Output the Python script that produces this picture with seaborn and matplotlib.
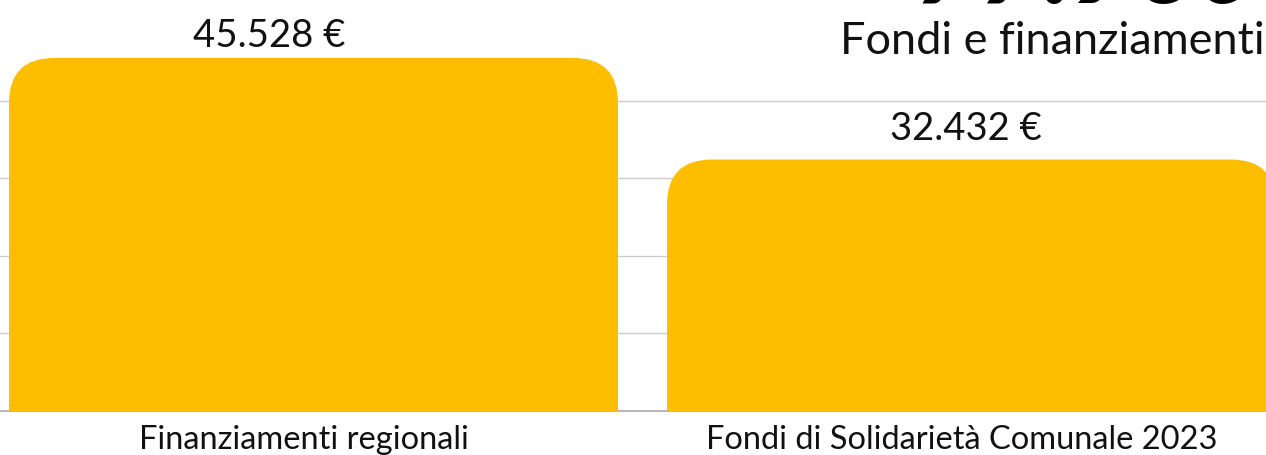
import matplotlib
matplotlib.use("Agg")
import matplotlib.pyplot as plt
import matplotlib.transforms as mtrans
import seaborn as sns
import pandas as pd
from matplotlib.patches import FancyBboxPatch

categories = ["Finanziamenti regionali", "Fondi di Solidarietà Comunale 2023"]
values = [45528, 32432]
value_labels = ["45.528 €", "32.432 €"]
total_label = "77.960 €"
subtitle = "Fondi e finanziamenti"

BAR_COLOR = "#FEBE00"
FONT = ["Lato", "DejaVu Sans"]

sns.set_theme(style="white")
plt.rcParams["font.family"] = FONT

W, H, DPI = 1266, 455, 100
fig = plt.figure(figsize=(W / DPI, H / DPI), dpi=DPI)
ax = fig.add_axes([0, (H - 411) / H, 1, (411 - 54.3) / H])

df = pd.DataFrame({"cat": categories, "val": values})
bar_w = 0.9255
sns.barplot(data=df, x="cat", y="val", color=BAR_COLOR, width=bar_w, ax=ax,
            saturation=1)

ax.set_xlim(-0.4765, 1.4476)
ax.set_ylim(0, 46000)

# replace bars with rounded-top bars
ax_px_w = W * 1.0
ax_px_h = 411 - 54.3
xr = ax.get_xlim()[1] - ax.get_xlim()[0]
yr = ax.get_ylim()[1] - ax.get_ylim()[0]
px_per_x = ax_px_w / xr
px_per_y = ax_px_h / yr
radius_px = 45
for p in list(ax.patches):
    x0, w, h = p.get_x(), p.get_width(), p.get_height()
    p.set_visible(False)
    r_x = radius_px / px_per_x
    aspect = px_per_x / px_per_y
    ext = radius_px / px_per_y * 2
    fb = FancyBboxPatch((x0, -ext), w, h + ext,
                        boxstyle=f"round,pad=0,rounding_size={r_x}",
                        mutation_aspect=aspect,
                        facecolor=BAR_COLOR, edgecolor="none", zorder=3)
    ax.add_patch(fb)

ax.set_yticks([10000, 20000, 30000, 40000])
ax.yaxis.grid(True, color="#cccccc", linewidth=1)
ax.set_axisbelow(True)
ax.set_yticklabels([])
ax.tick_params(axis="y", length=0)
ax.tick_params(axis="x", length=0, pad=10, labelsize=23.5, labelcolor="#111111")
shift = mtrans.ScaledTranslation(-10 / DPI, 0, fig.dpi_scale_trans)
for lbl in ax.get_xticklabels():
    lbl.set_transform(lbl.get_transform() + shift)
ax.set_xlabel("")
ax.set_ylabel("")
for s in ["top", "left", "right"]:
    ax.spines[s].set_visible(False)
ax.spines["bottom"].set_color("#aaaaaa")
ax.spines["bottom"].set_linewidth(1.2)
ax.spines["bottom"].set_zorder(1)

offsets = [(-44, 3), (-6, 9)]
for i, (v, t) in enumerate(zip(values, value_labels)):
    dx, dy = offsets[i]
    ax.annotate(t, (i, v), xytext=(dx * 0.72, dy), textcoords="offset points",
                ha="center", va="bottom", fontsize=27.5,
                color="#111111", annotation_clip=False)

fig.text(1265 / W, (H - 54) / H, subtitle, ha="right", va="baseline",
         fontsize=32.5, color="#111111")
fig.text(915 / W, (H - 3) / H, total_label, ha="left", va="baseline",
         fontsize=80, fontweight="black", color="#000000", style="italic")

fig.savefig("out.png", dpi=DPI)
